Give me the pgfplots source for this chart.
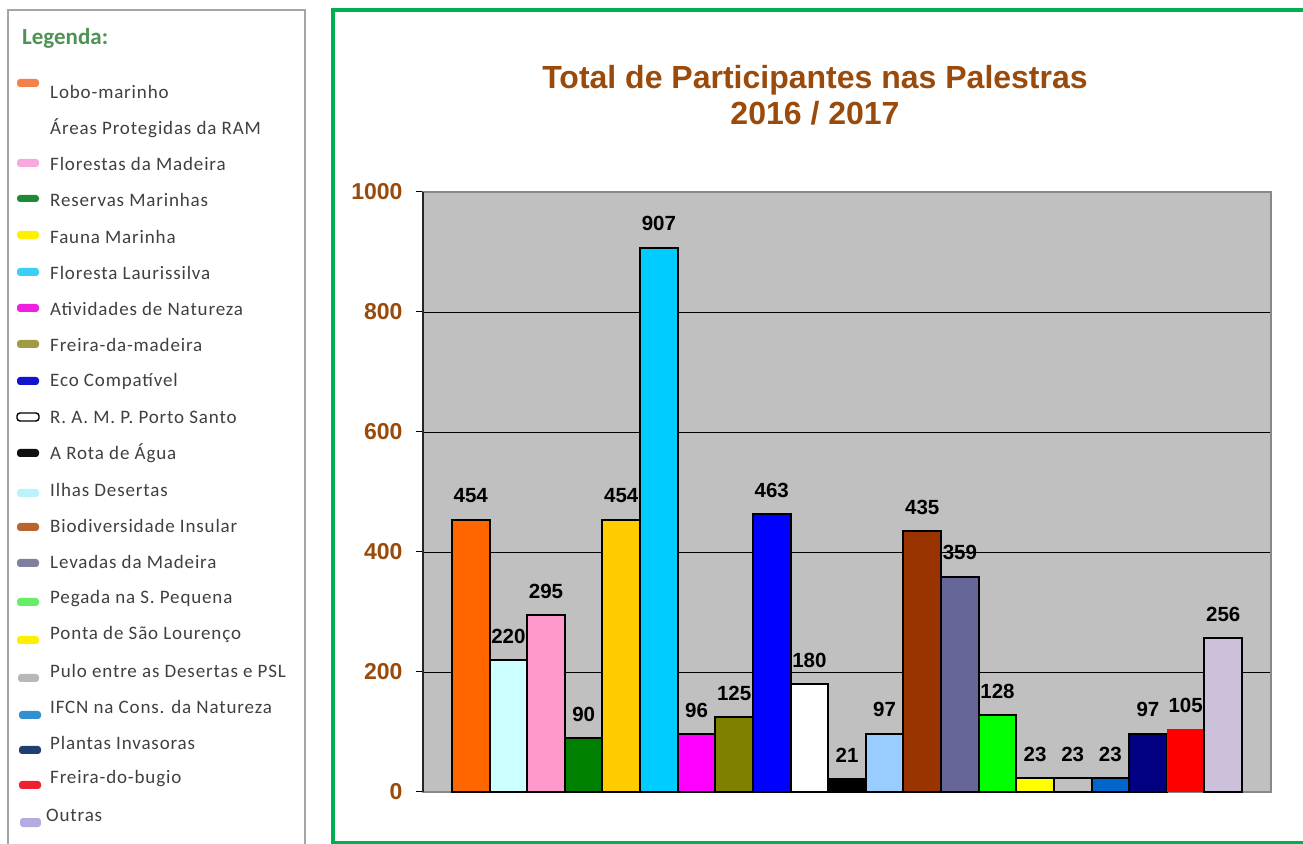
\documentclass[border=0pt]{standalone}
\usepackage{fontspec}
\setmainfont{Liberation Sans}
\newfontfamily\legfont[LetterSpace=4.5]{Carlito}
\newfontfamily\hdfont{Carlito}
\usepackage{pgfplots}
\pgfplotsset{compat=1.18}
\definecolor{ttl}{HTML}{9A4A0A}
\definecolor{frame}{HTML}{00B050}
\definecolor{legbox}{HTML}{A0A8A0}
\definecolor{legtxt}{HTML}{404040}
\definecolor{leghd}{HTML}{4E9356}
\definecolor{plotbg}{HTML}{C0C0C0}
\definecolor{axgray}{HTML}{888888}
% bar colours
\definecolor{b1}{HTML}{FF6600}
\definecolor{b2}{HTML}{CCFFFF}
\definecolor{b3}{HTML}{FF99CC}
\definecolor{b4}{HTML}{008000}
\definecolor{b5}{HTML}{FFCC00}
\definecolor{b6}{HTML}{00CCFF}
\definecolor{b7}{HTML}{FF00FF}
\definecolor{b8}{HTML}{808000}
\definecolor{b9}{HTML}{0000FF}
\definecolor{b10}{HTML}{FFFFFF}
\definecolor{b11}{HTML}{000000}
\definecolor{b12}{HTML}{99CCFF}
\definecolor{b13}{HTML}{993300}
\definecolor{b14}{HTML}{666699}
\definecolor{b15}{HTML}{00FF00}
\definecolor{b16}{HTML}{FFFF00}
\definecolor{b17}{HTML}{C0C0C0}
\definecolor{b18}{HTML}{0066CC}
\definecolor{b19}{HTML}{000080}
\definecolor{b20}{HTML}{FF0000}
\definecolor{b21}{HTML}{CCC0DA}
% legend swatch colours (as drawn in the side panel)
\definecolor{l1}{HTML}{F4804A}
\definecolor{l3}{HTML}{F8A8DC}
\definecolor{l4}{HTML}{1E8A36}
\definecolor{l5}{HTML}{FFF000}
\definecolor{l6}{HTML}{3CCFF5}
\definecolor{l7}{HTML}{F020E0}
\definecolor{l8}{HTML}{A09A40}
\definecolor{l9}{HTML}{1414D0}
\definecolor{l11}{HTML}{101010}
\definecolor{l12}{HTML}{B8F4FA}
\definecolor{l13}{HTML}{B8652E}
\definecolor{l14}{HTML}{80809E}
\definecolor{l15}{HTML}{66EE66}
\definecolor{l16}{HTML}{FFF000}
\definecolor{l17}{HTML}{B8B8B8}
\definecolor{l18}{HTML}{3090D0}
\definecolor{l19}{HTML}{1F3F70}
\definecolor{l20}{HTML}{EE2030}
\definecolor{l21}{HTML}{B4ACE0}

\tikzset{
  bar/.style={ybar, bar width=1, bar shift=0pt, draw=black, line width=2pt},
  sw/.style={rounded corners=3pt, draw=none},
  lt/.style={anchor=west, inner sep=0pt, text=legtxt, font=\legfont\fontsize{19}{19}\selectfont},
}

\begin{document}
\begin{tikzpicture}
\path[use as bounding box, fill=white] (0,0) rectangle (1303pt,843pt);

\begin{scope}[x=1pt, y=-1pt, yshift=843pt]
  % side legend panel
  \draw[legbox, line width=1.5pt] (8,850) -- (8,10) -- (305,10) -- (305,850);
  \node[anchor=west, inner sep=0pt, text=leghd, font=\hdfont\fontsize{23}{23}\selectfont\bfseries] at (22,38) {Legenda:};
  \fill[l1,sw]  (17,79) rectangle (39,87);
  \fill[l3,sw]  (17,159) rectangle (39,167);
  \fill[l4,sw]  (17,195) rectangle (39,202);
  \fill[l5,sw]  (17,231) rectangle (39,239);
  \fill[l6,sw]  (17,268) rectangle (39,276);
  \fill[l7,sw]  (17,304) rectangle (39,312);
  \fill[l8,sw]  (17,340) rectangle (39,348);
  \fill[l9,sw]  (17,377) rectangle (39,385);
  \draw[black, line width=1.4pt, rounded corners=3pt, fill=white] (17,413) rectangle (39,421);
  \fill[l11,sw] (17,449) rectangle (39,457);
  \fill[l12,sw] (17,489) rectangle (39,497);
  \fill[l13,sw] (17,523) rectangle (39,531);
  \fill[l14,sw] (17,559) rectangle (39,567);
  \fill[l15,sw] (17,598) rectangle (39,606);
  \fill[l16,sw] (17,636) rectangle (39,644);
  \fill[l17,sw] (18,674) rectangle (39,682);
  \fill[l18,sw] (19,711) rectangle (41,719);
  \fill[l19,sw] (19,746) rectangle (41,754);
  \fill[l20,sw] (19,781) rectangle (41,789);
  \fill[l21,sw] (20,818) rectangle (41,827);
  \node[lt] at (50,92)  {Lobo-marinho};
  \node[lt] at (50,128) {Áreas Protegidas da RAM};
  \node[lt] at (50,164) {Florestas da Madeira};
  \node[lt] at (50,200) {Reservas Marinhas};
  \node[lt] at (50,237) {Fauna Marinha};
  \node[lt] at (50,273) {Floresta Laurissilva};
  \node[lt] at (50,309) {Atividades de Natureza};
  \node[lt] at (50,345) {Freira-da-madeira};
  \node[lt] at (50,381) {Eco Compatível};
  \node[lt] at (50,417) {R. A. M. P. Porto Santo};
  \node[lt] at (50,453) {A Rota de Água};
  \node[lt] at (50,490) {Ilhas Desertas};
  \node[lt] at (50,526) {Biodiversidade Insular};
  \node[lt] at (50,562) {Levadas da Madeira};
  \node[lt] at (50,599) {Pegada na S. Pequena};
  \node[lt] at (50,635) {Ponta de São Lourenço};
  \node[lt] at (50,671) {Pulo entre as Desertas e PSL};
  \node[lt] at (50,707) {IFCN na Cons. da Natureza};
  \node[lt] at (50,743) {Plantas Invasoras};
  \node[lt] at (50,779) {Freira-do-bugio};
  \node[lt] at (46,815) {Outras};
  % chart frame
  \draw[frame, line width=4pt] (333,10.5) rectangle (1320,843);
  % title
  \node[align=center, text=ttl, font=\fontsize{32}{36}\selectfont\bfseries] at (815,95)
    {Total de Participantes nas Palestras\\2016 / 2017};
\end{scope}

\begin{axis}[
  at={(423pt,51pt)}, anchor=south west,
  scale only axis, width=848pt, height=600pt,
  xmin=-1.27, xmax=21.27, ymin=0, ymax=1000,
  xtick=\empty,
  ytick={0,200,400,600,800,1000},
  ytick pos=left, tick align=outside, major tick length=7pt,
  tick style={black, line width=1pt},
  ymajorgrids, grid style={black, line width=0.9pt},
  axis background/.style={fill=plotbg},
  axis line style={draw=axgray, line width=2.5pt},
  /pgf/number format/assume math mode=true,
  yticklabel style={font=\fontsize{23}{23}\selectfont\bfseries, text=ttl, xshift=-10pt,
    /pgf/number format/1000 sep={}},
  nodes near coords,
  nodes near coords style={font=\fontsize{20.5}{20.5}\selectfont\bfseries, text=black, anchor=center, yshift=24pt},
  clip=false,
]
\addplot[bar, fill=b1]  coordinates {(0,454)};
\addplot[bar, fill=b2]  coordinates {(1,220)};
\addplot[bar, fill=b3]  coordinates {(2,295)};
\addplot[bar, fill=b4]  coordinates {(3,90)};
\addplot[bar, fill=b5]  coordinates {(4,454)};
\addplot[bar, fill=b6]  coordinates {(5,907)};
\addplot[bar, fill=b7]  coordinates {(6,96)};
\addplot[bar, fill=b8]  coordinates {(7,125)};
\addplot[bar, fill=b9]  coordinates {(8,463)};
\addplot[bar, fill=b10] coordinates {(9,180)};
\addplot[bar, fill=b11] coordinates {(10,21)};
\addplot[bar, fill=b12] coordinates {(11,97)};
\addplot[bar, fill=b13] coordinates {(12,435)};
\addplot[bar, fill=b14] coordinates {(13,359)};
\addplot[bar, fill=b15] coordinates {(14,128)};
\addplot[bar, fill=b16] coordinates {(15,23)};
\addplot[bar, fill=b17] coordinates {(16,23)};
\addplot[bar, fill=b18] coordinates {(17,23)};
\addplot[bar, fill=b19] coordinates {(18,97)};
\addplot[bar, fill=b20, draw=none] coordinates {(19,105)};
\addplot[bar, fill=b21] coordinates {(20,256)};
\draw[black!85, line width=1.8pt] (rel axis cs:0,0) -- (rel axis cs:0,1);
\end{axis}
\end{tikzpicture}
\end{document}
